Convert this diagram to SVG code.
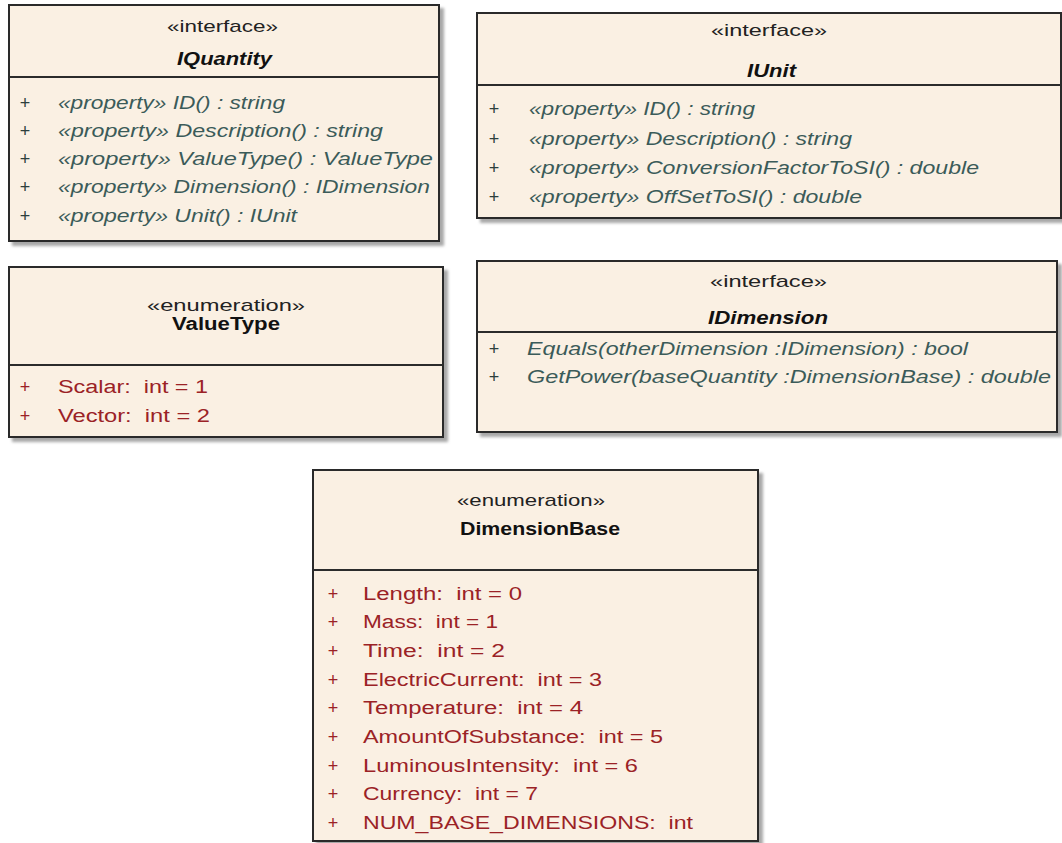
<svg xmlns="http://www.w3.org/2000/svg" width="1062" height="843" viewBox="0 0 1062 843">
<defs>
<filter id="sh" x="-5%" y="-5%" width="115%" height="115%">
<feDropShadow dx="4" dy="4" stdDeviation="1.6" flood-color="#8a8a8a" flood-opacity="0.75"/>
</filter>
<style>
.box{fill:#faf0e3;stroke:#2b2b2b;stroke-width:2;filter:url(#sh)}
.dv{stroke:#2b2b2b;stroke-width:2}
.st{font-family:"Liberation Sans",Arial,sans-serif;font-size:17px;fill:#222}
.ti{font-family:"Liberation Sans",Arial,sans-serif;font-size:18px;font-style:italic;font-weight:bold;fill:#111}
.tb{font-family:"Liberation Sans",Arial,sans-serif;font-size:18px;font-weight:bold;fill:#111}
.op{font-family:"Liberation Sans",Arial,sans-serif;font-size:18px;font-style:italic;fill:#3b5b59;white-space:pre}
.pl{font-family:"Liberation Sans",Arial,sans-serif;font-size:18px;fill:#2d3f3d;text-anchor:middle}
.en{font-family:"Liberation Sans",Arial,sans-serif;font-size:18px;fill:#9b2226;white-space:pre}
.pr{font-family:"Liberation Sans",Arial,sans-serif;font-size:18px;fill:#9b2226;text-anchor:middle}
</style>
</defs>
<rect width="1062" height="843" fill="#ffffff"/>

<g id="IQuantity">
<rect class="box" x="9" y="5" width="430" height="236"/>
<line class="dv" x1="9" y1="77" x2="439" y2="77"/>
<text class="st" x="167" y="32" textLength="111" lengthAdjust="spacingAndGlyphs">«interface»</text>
<text class="ti" x="177" y="65" textLength="95" lengthAdjust="spacingAndGlyphs">IQuantity</text>
<text class="pl" x="25" y="109">+</text>
<text class="op" x="58" y="109" textLength="227" lengthAdjust="spacingAndGlyphs">«property» ID() : string</text>
<text class="pl" x="25" y="137">+</text>
<text class="op" x="58" y="137" textLength="325" lengthAdjust="spacingAndGlyphs">«property» Description() : string</text>
<text class="pl" x="25" y="165">+</text>
<text class="op" x="58" y="165" textLength="375" lengthAdjust="spacingAndGlyphs">«property» ValueType() : ValueType</text>
<text class="pl" x="25" y="193">+</text>
<text class="op" x="58" y="193" textLength="372" lengthAdjust="spacingAndGlyphs">«property» Dimension() : IDimension</text>
<text class="pl" x="25" y="222">+</text>
<text class="op" x="58" y="222" textLength="239" lengthAdjust="spacingAndGlyphs">«property» Unit() : IUnit</text>
</g>

<g id="IUnit">
<rect class="box" x="477" y="13" width="584" height="205"/>
<line class="dv" x1="477" y1="85" x2="1061" y2="85"/>
<text class="st" x="711" y="36" textLength="116" lengthAdjust="spacingAndGlyphs">«interface»</text>
<text class="ti" x="747" y="77" textLength="49" lengthAdjust="spacingAndGlyphs">IUnit</text>
<text class="pl" x="494" y="115">+</text>
<text class="op" x="529" y="115" textLength="226" lengthAdjust="spacingAndGlyphs">«property» ID() : string</text>
<text class="pl" x="494" y="145">+</text>
<text class="op" x="529" y="145" textLength="323" lengthAdjust="spacingAndGlyphs">«property» Description() : string</text>
<text class="pl" x="494" y="174">+</text>
<text class="op" x="529" y="174" textLength="450" lengthAdjust="spacingAndGlyphs">«property» ConversionFactorToSI() : double</text>
<text class="pl" x="494" y="203">+</text>
<text class="op" x="529" y="203" textLength="333" lengthAdjust="spacingAndGlyphs">«property» OffSetToSI() : double</text>
</g>

<g id="ValueType">
<rect class="box" x="9" y="267" width="434" height="170"/>
<line class="dv" x1="9" y1="365" x2="443" y2="365"/>
<text class="st" x="147" y="311" textLength="158" lengthAdjust="spacingAndGlyphs">«enumeration»</text>
<text class="tb" x="172" y="330" textLength="108" lengthAdjust="spacingAndGlyphs">ValueType</text>
<text class="pr" x="25" y="393">+</text>
<text class="en" x="58" y="393" textLength="150" lengthAdjust="spacingAndGlyphs">Scalar:  int = 1</text>
<text class="pr" x="25" y="422">+</text>
<text class="en" x="58" y="422" textLength="152" lengthAdjust="spacingAndGlyphs">Vector:  int = 2</text>
</g>

<g id="IDimension">
<rect class="box" x="477" y="261" width="580" height="171"/>
<line class="dv" x1="477" y1="332" x2="1057" y2="332"/>
<text class="st" x="710" y="287" textLength="117" lengthAdjust="spacingAndGlyphs">«interface»</text>
<text class="ti" x="708" y="324" textLength="120" lengthAdjust="spacingAndGlyphs">IDimension</text>
<text class="pl" x="494" y="355">+</text>
<text class="op" x="527" y="355" textLength="441" lengthAdjust="spacingAndGlyphs">Equals(otherDimension :IDimension) : bool</text>
<text class="pl" x="494" y="383">+</text>
<text class="op" x="527" y="383" textLength="524" lengthAdjust="spacingAndGlyphs">GetPower(baseQuantity :DimensionBase) : double</text>
</g>

<g id="DimensionBase">
<rect class="box" x="313" y="470" width="445" height="371"/>
<line class="dv" x1="313" y1="570" x2="758" y2="570"/>
<text class="st" x="457" y="506" textLength="148" lengthAdjust="spacingAndGlyphs">«enumeration»</text>
<text class="tb" x="460" y="535" textLength="160" lengthAdjust="spacingAndGlyphs">DimensionBase</text>
<text class="pr" x="333" y="600">+</text>
<text class="en" x="363" y="600" textLength="159" lengthAdjust="spacingAndGlyphs">Length:  int = 0</text>
<text class="pr" x="333" y="628">+</text>
<text class="en" x="363" y="628" textLength="135" lengthAdjust="spacingAndGlyphs">Mass:  int = 1</text>
<text class="pr" x="333" y="657">+</text>
<text class="en" x="363" y="657" textLength="142" lengthAdjust="spacingAndGlyphs">Time:  int = 2</text>
<text class="pr" x="333" y="686">+</text>
<text class="en" x="363" y="686" textLength="239" lengthAdjust="spacingAndGlyphs">ElectricCurrent:  int = 3</text>
<text class="pr" x="333" y="714">+</text>
<text class="en" x="363" y="714" textLength="220" lengthAdjust="spacingAndGlyphs">Temperature:  int = 4</text>
<text class="pr" x="333" y="743">+</text>
<text class="en" x="363" y="743" textLength="300" lengthAdjust="spacingAndGlyphs">AmountOfSubstance:  int = 5</text>
<text class="pr" x="333" y="772">+</text>
<text class="en" x="363" y="772" textLength="275" lengthAdjust="spacingAndGlyphs">LuminousIntensity:  int = 6</text>
<text class="pr" x="333" y="800">+</text>
<text class="en" x="363" y="800" textLength="175" lengthAdjust="spacingAndGlyphs">Currency:  int = 7</text>
<text class="pr" x="333" y="829">+</text>
<text class="en" x="363" y="829" textLength="330" lengthAdjust="spacingAndGlyphs">NUM_BASE_DIMENSIONS:  int</text>
</g>

<g id="connectors"></g>
</svg>
